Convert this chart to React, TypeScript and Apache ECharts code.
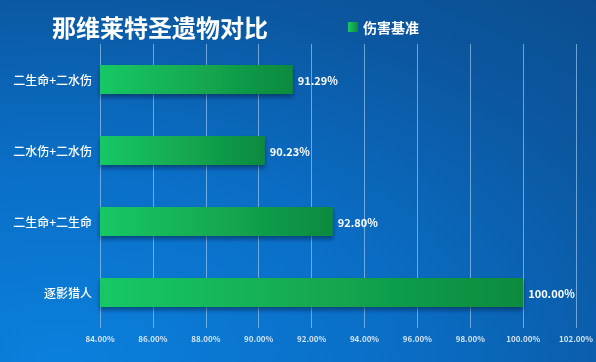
import React, { useEffect, useRef } from "react";
import * as echarts from "echarts";

const titleText = "那维莱特圣遗物对比";
const seriesName = "伤害基准";
const categories = ["二生命+二水伤", "二水伤+二水伤", "二生命+二生命", "逐影猎人"];
const values = [91.29, 90.23, 92.8, 100.0];
const axisMin = 84;
const axisMax = 102;
const axisStep = 2;

export default function App() {
  const ref = useRef<HTMLDivElement>(null);
  useEffect(() => {
    if (!ref.current) return;
    const chart = echarts.init(ref.current, undefined, { renderer: "svg" });
    const font = "'Noto Sans CJK SC', 'Noto Sans', sans-serif";
    chart.setOption({
      animation: false,
      backgroundColor: new echarts.graphic.RadialGradient(0.1, 1.0, 1.6, [
        { offset: 0, color: "#0a80dc" },
        { offset: 0.35, color: "#0a6ec6" },
        { offset: 0.65, color: "#0b57a0" },
        { offset: 1, color: "#0b4683" },
      ]),
      textStyle: { fontFamily: font },
      title: {
        text: titleText,
        left: 47,
        top: 9,
        textStyle: { color: "#ffffff", fontSize: 24, fontWeight: "bold", fontFamily: font },
      },
      legend: {
        left: 343,
        top: 15,
        icon: "rect",
        itemWidth: 10,
        itemHeight: 10,
        itemGap: 4,
        data: [seriesName],
        textStyle: { color: "#ffffff", fontSize: 14, fontWeight: "bold", fontFamily: font },
      },
      grid: { left: 100, right: 19, top: 44, bottom: 34, containLabel: false },
      xAxis: {
        type: "value",
        min: axisMin,
        max: axisMax,
        interval: axisStep,
        axisLine: { show: false },
        axisTick: { show: false },
        splitLine: { show: true, lineStyle: { color: "rgba(150,198,240,0.7)", width: 1 } },
        axisLabel: {
          color: "#d4e4f4",
          fontSize: 8,
          margin: 6,
          fontWeight: "bold",
          formatter: (v: number) => v.toFixed(2) + "%",
        },
      },
      yAxis: {
        type: "category",
        inverse: true,
        data: categories,
        axisLine: { show: false },
        axisTick: { show: false },
        axisLabel: { color: "#ffffff", fontSize: 12, fontWeight: 500, margin: 8 },
      },
      series: [
        {
          name: seriesName,
          type: "bar",
          data: values,
          barWidth: 29,
          itemStyle: {
            color: new echarts.graphic.LinearGradient(0, 0, 1, 0, [
              { offset: 0, color: "#18c865" },
              { offset: 1, color: "#0e8a3e" },
            ]),
            shadowColor: "rgba(0,20,50,0.5)",
            shadowBlur: 4,
            shadowOffsetY: 3,
          },
          label: {
            show: true,
            position: "right",
            distance: 5,
            color: "#ffffff",
            fontSize: 11,
            fontWeight: "bold",
            formatter: (p: any) => Number(p.value).toFixed(2) + "%",
          },
        },
      ],
    });
    return () => chart.dispose();
  }, []);
  return (
    <div
      ref={ref}
      style={{ position: "fixed", left: 0, top: 0, width: 596, height: 362 }}
    />
  );
}
